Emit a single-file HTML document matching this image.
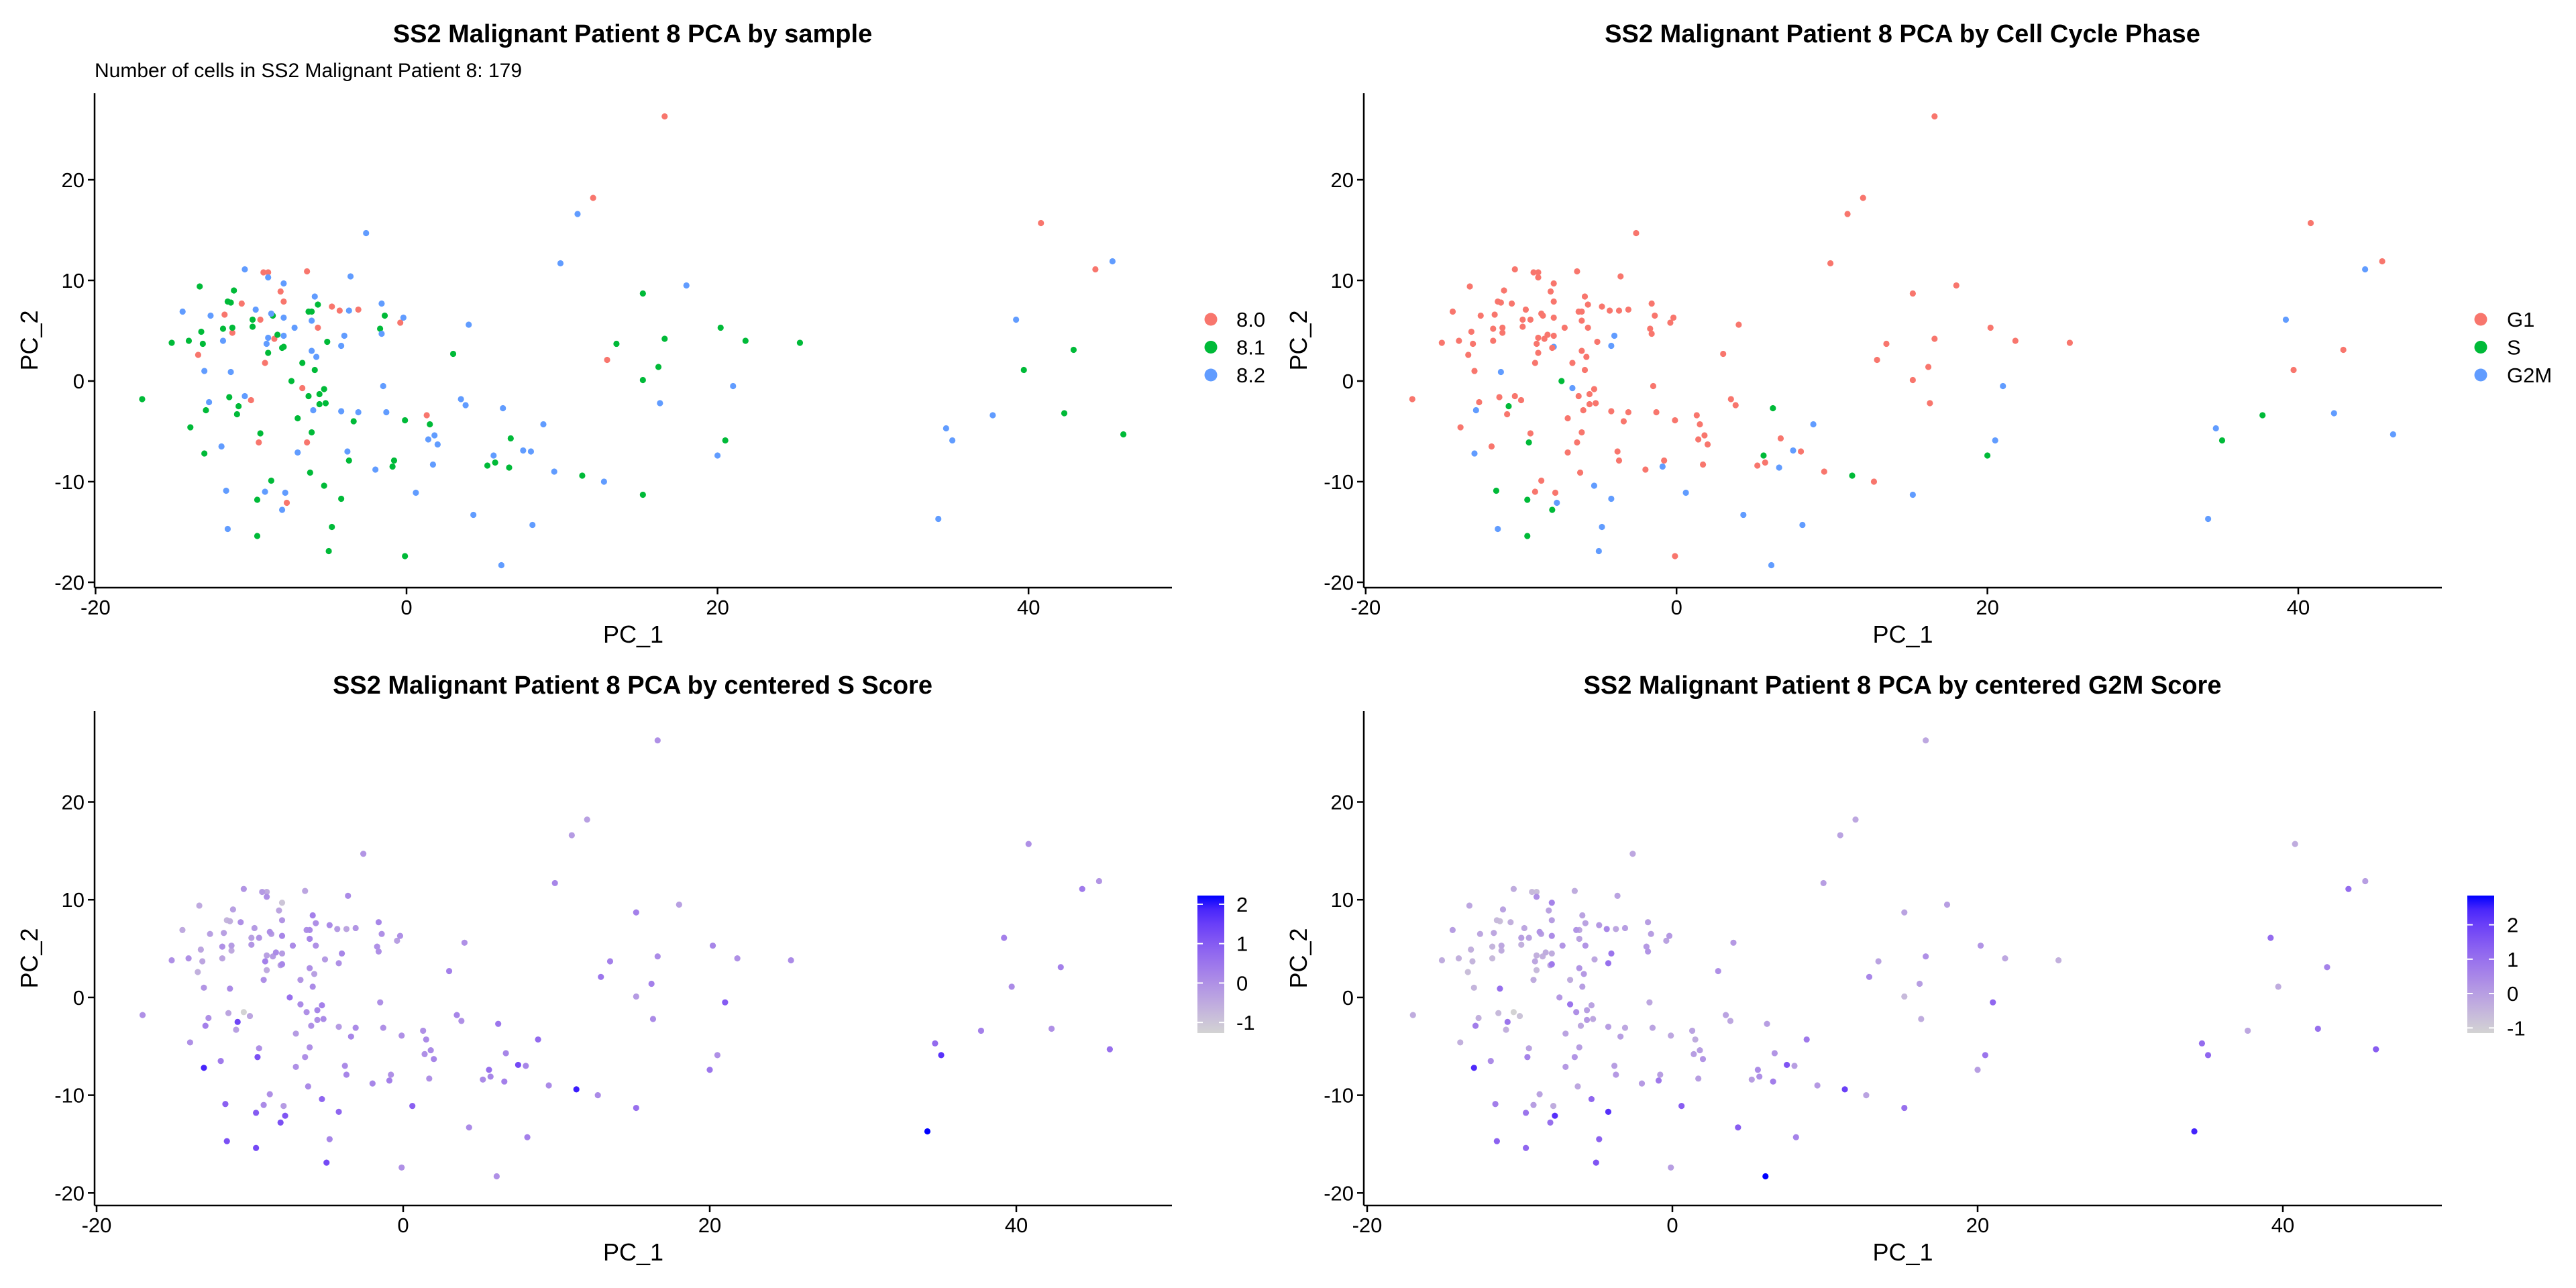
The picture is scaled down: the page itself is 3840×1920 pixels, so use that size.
<!DOCTYPE html>
<html><head><meta charset="utf-8"><style>
html,body{margin:0;padding:0;background:#fff}
svg{display:block;font-family:"Liberation Sans",Arial,sans-serif}
</style></head><body>
<svg id="chart" width="3840" height="1920" viewBox="0 0 3840 1920" xmlns="http://www.w3.org/2000/svg"></svg>
<script>
const pcx = [16.6,12.0,40.8,44.3,-9.2,-8.9,-6.4,-8.1,-7.9,-10.6,-11.7,-4.8,-4.3,-3.1,-9.4,-5.7,-11.2,-8.5,-13.4,-9.1,-0.4,12.9,-6.7,-10.0,1.3,-6.4,-9.5,-7.7,
-13.3,-11.1,-11.5,-11.3,-5.7,-6.3,-6.1,-8.6,-1.4,-9.9,-9.9,-11.8,-11.2,-1.7,-13.2,-8.3,-15.1,-14.0,-13.1,-5.1,-7.9,-8.0,-8.9,-6.7,-5.9,3.0,15.2,20.2,21.8,25.3,13.5,16.6,16.2,15.2,39.7,42.9,42.3,46.1,20.5,-7.4,-5.3,-5.6,-6.3,-11.4,-17.0,-5.2,-5.6,-10.8,-12.9,-10.9,-7.0,-3.4,-0.1,1.5,-13.9,-9.4,-6.1,6.7,-13.0,-3.7,-0.8,-0.9,5.7,5.2,6.6,11.3,-6.2,-8.7,-5.3,15.2,-9.6,-4.2,-4.8,-9.6,-5.0,-0.1,
-2.6,11.0,45.4,9.9,-10.4,-8.9,-3.6,-7.9,18.0,-5.9,-14.4,-12.6,-9.7,-8.7,-1.6,-3.7,-0.2,-7.9,-6.1,39.2,4.0,-7.2,-7.9,-4.0,-8.9,-11.8,-1.6,-9.0,-4.2,-6.1,-5.8,-13.0,-11.3,-1.5,21.0,-10.4,-12.7,3.5,3.8,6.2,-6.0,-4.2,-3.1,-1.3,16.3,37.7,8.8,34.7,35.1,1.8,1.4,2.0,-11.9,-3.8,-7.0,7.5,8.0,20.0,5.6,-2.0,1.7,9.5,12.7,-11.6,-9.1,-7.8,0.6,-8.0,4.3,8.1,34.2,-11.5,6.1];
const pcy = [26.3,18.2,15.7,11.1,10.8,10.8,10.9,8.9,7.9,7.7,6.6,7.4,7.0,7.1,6.1,5.3,4.8,4.2,2.6,1.8,5.8,2.1,-0.7,-1.9,-3.4,-6.1,-6.1,-12.1,
9.4,9.0,7.9,7.8,7.6,6.9,6.9,6.5,6.5,6.1,5.4,5.2,5.3,5.2,4.9,4.6,3.8,4.0,3.7,3.9,3.4,3.3,2.8,1.8,1.1,2.7,8.7,5.3,4.0,3.8,3.7,4.2,1.4,0.1,1.1,3.1,-3.2,-5.3,-5.9,0.0,-0.8,-1.3,-1.5,-1.6,-1.8,-2.2,-2.3,-2.5,-2.9,-3.3,-3.7,-4.0,-3.9,-4.3,-4.6,-5.2,-5.1,-5.7,-7.2,-7.9,-7.9,-8.5,-8.1,-8.4,-8.6,-9.4,-9.1,-9.9,-10.4,-11.3,-11.8,-11.7,-14.5,-15.4,-16.9,-17.4,
14.7,16.6,11.9,11.7,11.1,10.3,10.4,9.7,9.5,8.4,6.9,6.5,7.1,6.7,7.7,7.0,6.3,6.3,6.0,6.1,5.6,5.3,4.5,4.5,4.3,4.0,4.7,3.7,3.5,3.0,2.4,1.0,0.9,-0.5,-0.5,-1.5,-2.1,-1.8,-2.4,-2.7,-2.9,-3.0,-3.1,-3.1,-2.2,-3.4,-4.3,-4.7,-5.9,-5.4,-5.8,-6.3,-6.5,-7.0,-7.1,-6.9,-7.0,-7.4,-7.4,-8.8,-8.3,-9.0,-10.0,-10.9,-11.0,-11.1,-11.1,-12.8,-13.3,-14.3,-13.7,-14.7,-18.3];
const sampleIdx = [0,0,0,0,0,0,0,0,0,0,0,0,0,0,0,0,0,0,0,0,0,0,0,0,0,0,0,0,
1,1,1,1,1,1,1,1,1,1,1,1,1,1,1,1,1,1,1,1,1,1,1,1,1,1,1,1,1,1,1,1,1,1,1,1,1,1,1,1,1,1,1,1,1,1,1,1,1,1,1,1,1,1,1,1,1,1,1,1,1,1,1,1,1,1,1,1,1,1,1,1,1,1,1,1,
2,2,2,2,2,2,2,2,2,2,2,2,2,2,2,2,2,2,2,2,2,2,2,2,2,2,2,2,2,2,2,2,2,2,2,2,2,2,2,2,2,2,2,2,2,2,2,2,2,2,2,2,2,2,2,2,2,2,2,2,2,2,2,2,2,2,2,2,2,2,2,2,2];
const phaseIdx = [0,0,0,2,0,0,0,0,0,0,0,0,0,0,0,0,0,0,0,0,0,0,2,0,0,0,1,2,
0,0,0,0,0,0,0,0,0,0,0,0,0,0,0,0,0,0,0,0,2,0,0,0,0,0,0,0,0,0,0,0,0,0,0,0,2,2,2,1,0,0,0,0,0,0,0,1,2,0,0,0,0,0,0,0,0,0,2,0,0,2,0,0,2,1,0,0,2,2,1,2,2,1,2,0,
0,0,0,0,0,0,0,0,0,0,0,0,0,0,0,0,0,0,0,2,0,0,0,2,0,0,0,0,2,0,0,0,2,0,2,0,0,0,0,1,0,0,0,0,0,1,2,2,1,0,0,0,0,0,0,2,0,1,1,0,0,0,0,1,0,0,2,1,2,2,2,2,2];
const sScore = [0.0,-0.3,0.0,0.4,-0.2,-0.5,-0.4,-0.4,-0.1,0.0,-0.3,0.1,-0.2,-0.1,-0.1,0.0,-0.5,-0.2,-0.6,0.0,-0.3,0.5,0.1,-0.4,0.0,0.0,1.2,1.1,
-0.5,-0.3,-0.7,-0.6,0.0,0.0,0.1,-0.2,0.0,-0.3,-0.1,0.0,-0.2,0.0,-0.4,0.1,0.0,0.0,-0.4,-0.2,0.2,-0.3,-0.5,-0.1,0.1,0.3,0.3,0.2,0.0,0.1,0.3,0.1,0.3,-0.2,0.1,0.3,0.0,0.6,0.0,0.6,0.3,0.2,0.0,-0.4,0.0,0.1,0.0,1.4,0.3,-0.3,-0.2,0.2,0.0,0.1,0.0,0.0,0.0,0.2,1.9,0.2,0.0,0.3,0.2,0.1,0.3,2.0,0.1,0.0,0.8,0.6,1.0,0.8,0.2,1.3,1.3,0.0,
-0.1,-0.2,-0.1,0.2,-0.1,0.0,0.1,-1.0,-0.3,0.3,-0.5,-0.3,-0.2,0.0,0.2,-0.4,0.0,0.2,0.2,0.3,0.0,0.1,-0.2,0.2,-0.3,-0.4,0.0,0.3,0.0,0.0,-0.3,-0.1,0.1,0.0,1.0,-1.27,0.0,0.2,0.0,0.5,0.0,-0.2,0.1,0.0,0.1,0.3,0.7,0.7,1.7,0.1,0.0,0.2,0.4,0.1,0.0,1.3,0.2,0.5,0.6,0.2,0.0,0.1,0.1,0.9,0.1,-0.2,0.9,1.2,0.1,0.3,2.22,1.2,0.0];
const g2mScore = [-0.2,-0.2,-0.3,1.1,-0.6,-0.7,-0.3,-0.1,0.0,-0.4,-0.2,0.1,0.5,0.0,-0.1,0.2,-0.3,-0.4,-0.7,-0.3,-0.1,0.5,0.9,-0.8,-0.1,0.2,0.6,2.3,
-0.2,-0.1,-0.6,-0.7,-0.1,0.2,-0.2,0.0,0.0,0.0,-0.4,-0.5,-0.2,0.1,-0.4,-0.3,-0.3,-0.4,-0.5,-0.2,0.8,-0.2,-0.6,-0.3,0.0,0.3,-0.1,0.2,-0.2,-0.4,-0.1,0.3,0.0,-0.6,-0.3,0.6,1.0,1.4,0.9,0.1,-0.1,0.0,0.3,-0.6,-0.3,-0.2,0.1,0.9,0.7,-0.4,-0.1,0.0,-0.2,-0.3,-0.4,-0.1,0.0,0.2,2.4,0.1,0.0,0.8,0.3,0.0,0.7,2.0,-0.2,-0.1,1.2,1.0,0.9,2.3,1.3,1.2,1.6,0.0,
-0.2,-0.1,0.0,0.0,-0.3,0.3,-0.1,0.6,0.0,-0.1,0.0,-0.2,-0.2,0.2,0.0,-0.2,0.1,0.4,-0.1,1.1,0.1,0.2,-0.3,0.9,-0.4,-0.6,0.2,-0.2,1.0,0.2,0.1,-0.5,1.0,-0.2,1.2,-1.15,-0.4,-0.1,-0.2,0.0,-0.2,0.0,-0.2,-0.1,-0.3,-0.2,0.8,1.1,1.2,0.0,0.0,0.2,0.4,0.0,0.1,1.6,0.0,0.0,0.4,0.1,0.0,0.1,-0.1,0.7,0.0,-0.3,1.4,1.0,1.4,0.6,2.5,1.3,2.85];
const sampleLabels = ["8.0","8.1","8.2"];
const phaseLabels = ["G1","S","G2M"];
const xTicks = [-20,0,20,40];
const yTicks = [-20,-10,0,10,20];
const sBarTicks = [-1,0,1,2];
const gBarTicks = [-1,0,1,2];

const NS="http://www.w3.org/2000/svg";
const svg=document.getElementById('chart');
const pal=["#F8766D","#00BA38","#619CFF"];
function mk(tag,attrs,parent){const e=document.createElementNS(NS,tag);for(const k in attrs)e.setAttribute(k,attrs[k]);(parent||svg).appendChild(e);return e;}
function txt(s,attrs,parent){const e=mk('text',attrs,parent);e.textContent=s;return e;}
// Lab interpolation (like ggplot2 scale_colour_gradient)
function toLin(c){c/=255;return c<=0.04045?c/12.92:Math.pow((c+0.055)/1.055,2.4);}
function fromLin(c){const v=c<=0.0031308?12.92*c:1.055*Math.pow(c,1/2.4)-0.055;return Math.round(Math.max(0,Math.min(1,v))*255);}
const Wn=[0.95047,1,1.08883];
function f(t){return t>0.008856?Math.cbrt(t):7.787*t+16/116;}
function fi(t){return t>0.206893?t*t*t:(t-16/116)/7.787;}
function rgb2lab(r,g,b){r=toLin(r);g=toLin(g);b=toLin(b);
 const X=(0.4124*r+0.3576*g+0.1805*b)/Wn[0],Y=(0.2126*r+0.7152*g+0.0722*b)/Wn[1],Z=(0.0193*r+0.1192*g+0.9505*b)/Wn[2];
 return [116*f(Y)-16,500*(f(X)-f(Y)),200*(f(Y)-f(Z))];}
function lab2rgb(L,a,b){const fy=(L+16)/116,fx=fy+a/500,fz=fy-b/200;
 const X=fi(fx)*Wn[0],Y=fi(fy)*Wn[1],Z=fi(fz)*Wn[2];
 const r=3.2406*X-1.5372*Y-0.4986*Z,g=-0.9689*X+1.8758*Y+0.0415*Z,bb=0.0557*X-0.2040*Y+1.0570*Z;
 return `rgb(${fromLin(r)},${fromLin(g)},${fromLin(bb)})`;}
const labLo=rgb2lab(211,211,211),labHi=rgb2lab(0,0,255);
function lerpColor(t){t=Math.max(0,Math.min(1,t));return lab2rgb(labLo[0]+(labHi[0]-labLo[0])*t,labLo[1]+(labHi[1]-labLo[1])*t,labLo[2]+(labHi[2]-labLo[2])*t);}

const panels=[
 {id:'sample',title:'SS2 Malignant Patient 8 PCA by sample',tcx:943,ty:63,axL:141,axR:1747,axT:139,axB:876,x0:606,xs:23.18,y0:568,ys:15.0,mode:'sample',legX:1805,legTX:1843,sub:true},
 {id:'phase',title:'SS2 Malignant Patient 8 PCA by Cell Cycle Phase',tcx:2836,ty:63,axL:2033,axR:3640,axT:139,axB:876,x0:2499.2,xs:23.17,y0:568,ys:15.0,mode:'phase',legX:3698,legTX:3737},
 {id:'s-score',title:'SS2 Malignant Patient 8 PCA by centered S Score',tcx:943,ty:1034,axL:141,axR:1747,axT:1060,axB:1797,x0:601,xs:22.85,y0:1486.9,ys:14.57,mode:'s',barX:1785,barTX:1843},
 {id:'g2m-score',title:'SS2 Malignant Patient 8 PCA by centered G2M Score',tcx:2836,ty:1034,axL:2033,axR:3640,axT:1060,axB:1797,x0:2493,xs:22.75,y0:1486.9,ys:14.57,mode:'g',barX:3678,barTX:3737}
];

panels.forEach(p=>{
 const g=mk('g',{});
 
 
 const X=v=>p.x0+v*p.xs, Y=v=>p.y0-v*p.ys;
 const t=txt(p.title,{x:p.tcx,y:p.ty,'text-anchor':'middle','font-size':38,'font-weight':'bold',fill:'#000'},g);
 
 
 if(p.sub){const s=txt('Number of cells in SS2 Malignant Patient 8: 179',{x:141,y:115,'font-size':30,fill:'#000'},g);
  
  }
 const ya=mk('line',{x1:p.axL,y1:p.axT,x2:p.axL,y2:p.axB,stroke:'#000','stroke-width':2.5},g);
 
 
 const xa=mk('line',{x1:p.axL,y1:p.axB,x2:p.axR,y2:p.axB,stroke:'#000','stroke-width':2.5},g);
 
 
 xTicks.forEach(v=>{
  mk('line',{x1:X(v),y1:p.axB,x2:X(v),y2:p.axB+10,stroke:'#000','stroke-width':2.5},g);
  const l=txt(String(v),{x:X(v),y:p.axB+40,'text-anchor':'middle','font-size':31,fill:'#000'},g);
  
  
 });
 yTicks.forEach(v=>{
  mk('line',{x1:p.axL-10,y1:Y(v),x2:p.axL,y2:Y(v),stroke:'#000','stroke-width':2.5},g);
  const l=txt(String(v),{x:p.axL-15,y:Y(v)+11,'text-anchor':'end','font-size':31,fill:'#000'},g);
  
  
 });
 const xt=txt('PC_1',{x:(p.axL+p.axR)/2,y:p.axB+82,'text-anchor':'middle','font-size':36,fill:'#000'},g);
 
 
 const cy=(p.axT+p.axB)/2, cx=p.axL-85;
 const yt=txt('PC_2',{x:cx,y:cy,'text-anchor':'middle','font-size':36,fill:'#000',transform:`rotate(-90 ${cx} ${cy})`},g);
 
 
 let sMin,sMax,vals;
 if(p.mode==='s'){vals=sScore;} else if(p.mode==='g'){vals=g2mScore;}
 if(vals){sMin=Math.min(...vals);sMax=Math.max(...vals);}
 const order=[...pcx.keys()];
 if(vals) order.sort((a,b)=>vals[a]-vals[b]);
 order.forEach(i=>{
  let col;
  if(p.mode==='sample')col=pal[sampleIdx[i]];
  else if(p.mode==='phase')col=pal[phaseIdx[i]];
  else col=lerpColor((vals[i]-sMin)/(sMax-sMin));
  const c=mk('circle',{cx:X(pcx[i]),cy:Y(pcy[i]),r:4.6,fill:col},g);
  
  
 });
 if(p.mode==='sample'||p.mode==='phase'){
  const labs=p.mode==='sample'?sampleLabels:phaseLabels;
  labs.forEach((lb,k)=>{
   const yy=476+k*41.5;
   const c=mk('circle',{cx:p.legX,cy:yy,r:9.5,fill:pal[k]},g);
   
   
   const l=txt(lb,{x:p.legTX,y:yy+11,'font-size':31,fill:'#000'},g);
   
   
  });
 } else {
  const bT=1335,bB=1540,bw=40;
  const gid='grad-'+p.id;
  const defs=mk('defs',{},g);
  const lg=mk('linearGradient',{id:gid,x1:0,y1:1,x2:0,y2:0},defs);
  for(let k=0;k<=10;k++) mk('stop',{offset:(k*10)+'%','stop-color':lerpColor(k/10)},lg);
  const r=mk('rect',{x:p.barX,y:bT,width:bw,height:bB-bT,fill:`url(#${gid})`},g);
  
  
  const ticks=p.mode==='s'?sBarTicks:gBarTicks;
  const BY=v=>bB-(v-sMin)/(sMax-sMin)*(bB-bT);
  ticks.forEach(v=>{
   mk('line',{x1:p.barX,y1:BY(v),x2:p.barX+8,y2:BY(v),stroke:'#fff','stroke-width':2},g);
   mk('line',{x1:p.barX+bw-8,y1:BY(v),x2:p.barX+bw,y2:BY(v),stroke:'#fff','stroke-width':2},g);
   const l=txt(String(v),{x:p.barTX,y:BY(v)+11,'font-size':31,fill:'#000'},g);
   
   
  });
 }
});
</script>
</body></html>
